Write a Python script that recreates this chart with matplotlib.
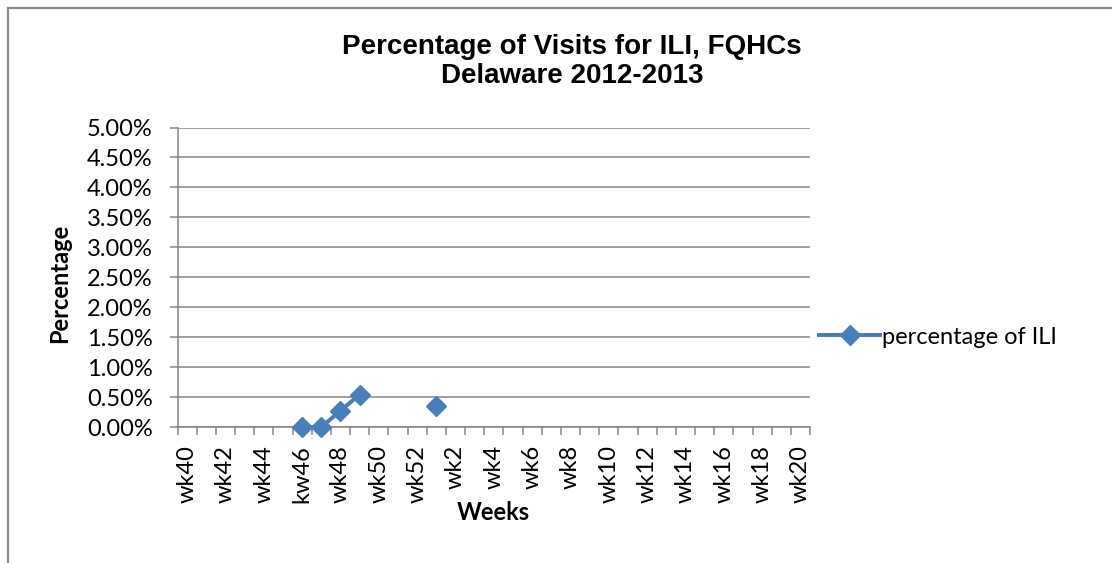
import numpy as np
import matplotlib
matplotlib.use('Agg')
import matplotlib.pyplot as plt
from matplotlib.lines import Line2D

weeks = ['wk40', 'wk41', 'wk42', 'wk43', 'wk44', 'wk45', 'kw46', 'wk47', 'wk48',
         'wk49', 'wk50', 'wk51', 'wk52', 'wk1', 'wk2', 'wk3', 'wk4', 'wk5', 'wk6',
         'wk7', 'wk8', 'wk9', 'wk10', 'wk11', 'wk12', 'wk13', 'wk14', 'wk15',
         'wk16', 'wk17', 'wk18', 'wk19', 'wk20']
nan = np.nan
ili_pct = [nan, nan, nan, nan, nan, nan, 0.0, 0.0, 0.27,
           0.54, nan, nan, nan, 0.35, nan, nan, nan, nan, nan,
           nan, nan, nan, nan, nan, nan, nan, nan, nan,
           nan, nan, nan, nan, nan]
yticks = [0.0, 0.5, 1.0, 1.5, 2.0, 2.5, 3.0, 3.5, 4.0, 4.5, 5.0]

body = 'Lato'
head = 'Liberation Sans'
blue = '#4A7EBB'
grey = '#868686'
fs = 17

W, H = 1112, 563
fig = plt.figure(figsize=(W / 100, H / 100), dpi=100)
ax = fig.add_axes([177.5 / W, 1 - 427 / H, (810 - 177.5) / W, (427 - 127.5) / H])

x = np.arange(len(weeks))
ax.plot(x, ili_pct, color=blue, lw=2.9, marker='D', markersize=10,
        label='percentage of ILI', zorder=3, clip_on=False)

ax.set_xlim(-0.5, len(weeks) - 0.5)
ax.set_ylim(0, 5)
ax.set_yticks(yticks)
ax.set_yticklabels(['{:.2f}%'.format(v) for v in yticks], fontfamily=body, fontsize=fs)
ax.set_xticks(x[::2])
ax.set_xticklabels(weeks[::2], rotation=90, fontfamily=body, fontsize=fs)
ax.set_xticks(np.arange(-0.5, len(weeks)), minor=True)
ax.tick_params(axis='x', which='major', length=0, pad=13)
ax.tick_params(axis='x', which='minor', length=6, width=1.1, color=grey)
ax.tick_params(axis='y', length=6, width=1.1, color=grey, pad=12)
ax.grid(axis='y', color=grey, lw=1.1)
ax.set_axisbelow(True)
for s in ['top', 'right']:
    ax.spines[s].set_visible(False)
for s in ['left', 'bottom']:
    ax.spines[s].set_color(grey)
    ax.spines[s].set_linewidth(1.1)

fig.text(60 / W, 1 - 283 / H, 'Percentage', rotation=90, ha='center', va='center',
         fontfamily=body, fontsize=fs, fontweight='bold')
fig.text(493 / W, 1 - 513 / H, 'Weeks', ha='center', va='center',
         fontfamily=body, fontsize=fs, fontweight='bold')
fig.text(572 / W, 1 - 61 / H, 'Percentage of Visits for ILI, FQHCs\nDelaware 2012-2013',
         ha='center', va='center', fontfamily=head, fontsize=20, fontweight='bold',
         linespacing=1.15)

fig.legend(loc='center left', bbox_to_anchor=(812 / W, 1 - 337 / H), frameon=False,
           prop={'family': body, 'size': fs}, handlelength=2.6, handletextpad=0.05,
           borderpad=0, borderaxespad=0.3)

# outer chart border
fig.add_artist(Line2D([7.5 / W, 7.5 / W], [0, 1 - 8 / H], color='#8C8C8C', lw=1.6))
fig.add_artist(Line2D([7.5 / W, 1], [1 - 8 / H, 1 - 8 / H], color='#8C8C8C', lw=1.6))

fig.savefig('out.png', dpi=100)
